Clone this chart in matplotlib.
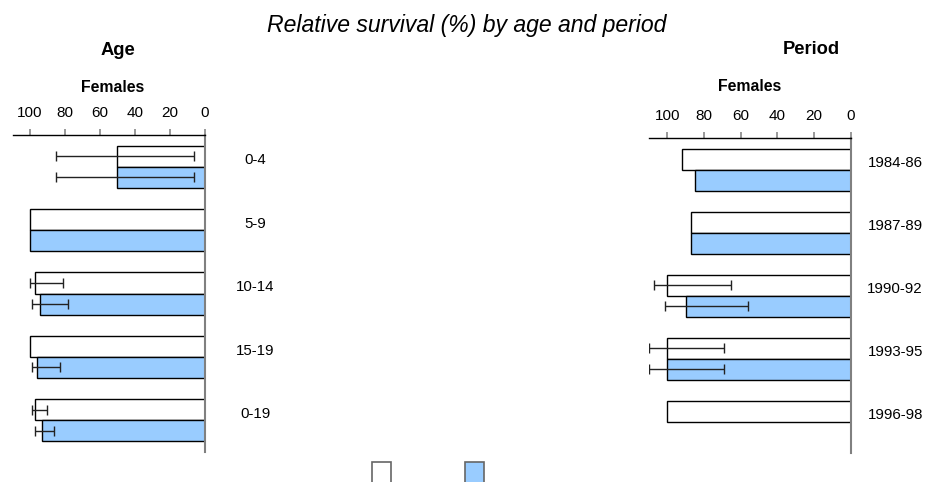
import numpy as np
import matplotlib.pyplot as plt
from matplotlib.patches import Rectangle

plt.rcParams['font.family'] = ['Liberation Sans', 'DejaVu Sans']

nan = np.nan

# Age panel
age_labels = ['0-4', '5-9', '10-14', '15-19', '0-19']
age_white = [50, 100, 97, 100, 97]
age_white_lo = [6, nan, 81, nan, 90]
age_white_hi = [85, nan, 100, nan, 99]
age_blue = [50, 100, 94, 96, 93]
age_blue_lo = [6, nan, 78, 83, 86]
age_blue_hi = [85, nan, 99, 99, 97]

# Period panel
period_labels = ['1984-86', '1987-89', '1990-92', '1993-95', '1996-98']
per_white = [92, 87, 100, 100, 100]
per_white_lo = [nan, nan, 65, 69, nan]
per_white_hi = [nan, nan, 107, 110, nan]
per_blue = [85, 87, 90, 100, nan]
per_blue_lo = [nan, nan, 56, 69, nan]
per_blue_hi = [nan, nan, 101, 110, nan]

ticks = [100, 80, 60, 40, 20, 0]
BLUE = '#99CCFF'
W, H = 931, 482


def px(x0, y0, x1, y1):
    # pixel box (top-left origin) -> figure fraction rect
    return [x0 / W, (H - y1) / H, (x1 - x0) / W, (y1 - y0) / H]


def panel(ax, labels, white, wlo, whi, blue, blo, bhi, xmax, label_x):
    n = len(labels)
    y = np.arange(n)
    ax.barh(y - 1/6, white, height=1/3, color='white', edgecolor='black', lw=1, zorder=2)
    ax.barh(y + 1/6, blue, height=1/3, color=BLUE, edgecolor='black', lw=1, zorder=2)
    for vals, lo, hi, off in [(white, wlo, whi, -1/6), (blue, blo, bhi, 1/6)]:
        for i in range(n):
            if np.isnan(lo[i]):
                continue
            mid = (lo[i] + hi[i]) / 2
            ax.errorbar(mid, i + off, xerr=(hi[i] - lo[i]) / 2, fmt='none',
                        ecolor='#222222', elinewidth=1, capsize=3.6, capthick=1, zorder=3)
    for i, lab in enumerate(labels):
        ax.text(label_x, i - 0.1, lab, ha='center', va='center', fontsize=10.8, clip_on=False)
    ax.set_xlim(xmax, 0)
    ax.set_ylim(n - 0.5, -0.5)
    ax.set_yticks([])
    ax.set_xticks(ticks)
    ax.xaxis.tick_top()
    ax.tick_params(axis='x', direction='out', length=4, width=1.2, color='#888888',
                   labelsize=11, pad=7)
    for s in ['left', 'bottom']:
        ax.spines[s].set_visible(False)
    ax.spines['top'].set_color('black')
    ax.spines['top'].set_linewidth(1)
    ax.spines['right'].set_color('#808080')
    ax.spines['right'].set_linewidth(1.5)
    ax.patch.set_alpha(0)


fig = plt.figure(figsize=(W / 100, H / 100), dpi=100)

ax1 = fig.add_axes(px(13, 135, 205, 452))
panel(ax1, age_labels, age_white, age_white_lo, age_white_hi,
      age_blue, age_blue_lo, age_blue_hi, 109.7, -28.6)

ax2 = fig.add_axes(px(649.3, 138.3, 850.7, 453))
panel(ax2, period_labels, per_white, per_white_lo, per_white_hi,
      per_blue, per_blue_lo, per_blue_hi, 109.8, -24.2)

fig.text(466.5 / W, 1 - 31.7 / H, 'Relative survival (%) by age and period',
         ha='center', va='baseline', fontsize=16.6, style='italic')
fig.text(118.3 / W, 1 - 55 / H, 'Age', ha='center', va='baseline', fontsize=13.2, weight='bold')
fig.text(811.7 / W, 1 - 54.3 / H, 'Period', ha='center', va='baseline', fontsize=13.2, weight='bold')
fig.text(112.7 / W, 1 - 91.7 / H, 'Females', ha='center', va='baseline', fontsize=11.4, weight='bold')
fig.text(750 / W, 1 - 90.7 / H, 'Females', ha='center', va='baseline', fontsize=11.4, weight='bold')

# legend swatches (labels fall outside the picture)
fig.patches.append(Rectangle((372 / W, -2 / H), 19 / W, 22 / H, transform=fig.transFigure,
                             facecolor='white', edgecolor='#666666', lw=1.2))
fig.patches.append(Rectangle((465 / W, -2 / H), 19 / W, 22 / H, transform=fig.transFigure,
                             facecolor=BLUE, edgecolor='#666666', lw=1.2))

plt.savefig('out.png', dpi=100)
